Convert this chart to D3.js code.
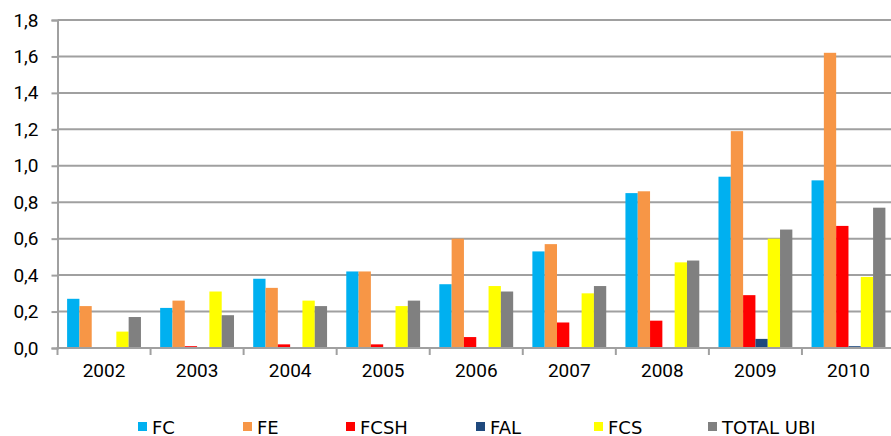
<!DOCTYPE html>
<html>
<head>
<meta charset="utf-8">
<script src="https://cdn.jsdelivr.net/npm/d3@7"></script>
<style>
  body { margin: 0; background: #fff; }
  .tick text { fill: #000; }
</style>
</head>
<body>
<div id="chart"></div>
<script>
  // data
  var years = ["2002", "2003", "2004", "2005", "2006", "2007", "2008", "2009", "2010"]
  var series = ["FC", "FE", "FCSH", "FAL", "FCS", "TOTAL UBI"]
  var colors = ["#00B0F0", "#F79646", "#FF0000", "#1F497D", "#FFFF00", "#808080"]

  var fc    = [0.27, 0.22, 0.38, 0.42, 0.35, 0.53, 0.85, 0.94, 0.92]
  var fe    = [0.23, 0.26, 0.33, 0.42, 0.60, 0.57, 0.86, 1.19, 1.62]
  var fcsh  = [0.00, 0.01, 0.02, 0.02, 0.06, 0.14, 0.15, 0.29, 0.67]
  var fal   = [0.00, 0.00, 0.00, 0.00, 0.00, 0.00, 0.00, 0.05, 0.01]
  var fcs   = [0.09, 0.31, 0.26, 0.23, 0.34, 0.30, 0.47, 0.60, 0.39]
  var total = [0.17, 0.18, 0.23, 0.26, 0.31, 0.34, 0.48, 0.65, 0.77]

  var yTicks = [0, 0.2, 0.4, 0.6, 0.8, 1.0, 1.2, 1.4, 1.6, 1.8]

  var values = [fc, fe, fcsh, fal, fcs, total]

  // one row per year, built from the arrays above
  var data = years.map(function(y, i) {
    return { year: y, vals: series.map(function(s, j) { return { key: s, value: values[j][i] } }) }
  })

  var margin = {top: 20, right: -4, bottom: 88, left: 57.5},
      fullWidth = 891, fullHeight = 436,
      width = fullWidth - margin.left - margin.right,
      height = fullHeight - margin.top - margin.bottom;

  var svg = d3.select("#chart").append("svg")
      .attr("width", fullWidth)
      .attr("height", fullHeight)
    .append("g")
      .attr("transform", "translate(" + margin.left + "," + margin.top + ")")

  var x0 = d3.scaleBand().domain(years).range([0, width]).padding(0)
  var x1 = d3.scaleBand().domain(series).range([0, x0.bandwidth()]).paddingInner(0).paddingOuter(0.78)
  var y = d3.scaleLinear().domain([0, 1.8]).range([height, 0])
  var color = d3.scaleOrdinal().domain(series).range(colors)

  var comma = d3.formatLocale({decimal: ",", thousands: ".", grouping: [3], currency: ["", "€"]}).format(".1f")

  // gridlines
  svg.append("g")
      .selectAll("line")
      .data(yTicks.slice(1))
    .enter().append("line")
      .attr("x1", 0)
      .attr("x2", width)
      .attr("y1", function(d) { return y(d) })
      .attr("y2", function(d) { return y(d) })
      .attr("stroke", "#a0a0a0")
      .attr("stroke-width", 2)

  // y axis
  var yAxis = d3.axisLeft(y).tickValues(yTicks).tickFormat(comma).tickSize(6).tickPadding(13)
  var gy = svg.append("g").attr("class", "y axis").call(yAxis)
  gy.select(".domain").attr("stroke", "#a0a0a0").attr("stroke-width", 2)
  gy.selectAll(".tick line").attr("stroke", "#a0a0a0").attr("stroke-width", 2)
  gy.selectAll(".tick text")
      .attr("font-family", "Roboto")
      .attr("font-size", "19px")

  // bars
  var groups = svg.selectAll(".year")
      .data(data)
    .enter().append("g")
      .attr("class", "year")
      .attr("transform", function(d) { return "translate(" + x0(d.year) + ",0)" })

  groups.selectAll("rect")
      .data(function(d) { return d.vals })
    .enter().append("rect")
      .attr("x", function(d) { return x1(d.key) })
      .attr("width", x1.bandwidth())
      .attr("y", function(d) { return y(d.value) })
      .attr("height", function(d) { return y(0) - y(d.value) })
      .attr("fill", function(d) { return color(d.key) })

  // x axis: labels centred, ticks on category boundaries
  var xAxis = d3.axisBottom(x0).tickSize(0).tickPadding(16)
  var gx = svg.append("g")
      .attr("class", "x axis")
      .attr("transform", "translate(0," + height + ")")
      .call(xAxis)
  gx.select(".domain").remove()
  gx.append("line")
      .attr("x1", -1).attr("x2", width)
      .attr("stroke", "#a0a0a0").attr("stroke-width", 2)
  gx.selectAll(".bound")
      .data(years)
    .enter().append("line")
      .attr("class", "bound")
      .attr("x1", function(d) { return x0(d) })
      .attr("x2", function(d) { return x0(d) })
      .attr("y1", 0).attr("y2", 7)
      .attr("stroke", "#a0a0a0").attr("stroke-width", 2)
  gx.selectAll(".tick text")
      .attr("font-family", "Roboto")
      .attr("font-size", "19px")

  // legend
  var legendX = [138, 243, 346, 476, 594, 708]
  var legend = d3.select("svg").append("g").attr("class", "legend")
  var items = legend.selectAll("g")
      .data(series)
    .enter().append("g")
      .attr("transform", function(d, i) { return "translate(" + legendX[i] + ",427)" })
  items.append("rect")
      .attr("x", 0).attr("y", -5)
      .attr("width", 9).attr("height", 9)
      .attr("fill", function(d) { return color(d) })
  items.append("text")
      .attr("x", 14)
      .attr("y", 6.5)
      .attr("font-family", "DejaVu Sans")
      .attr("font-size", "18px")
      .text(function(d) { return d })
</script>
</body>
</html>
